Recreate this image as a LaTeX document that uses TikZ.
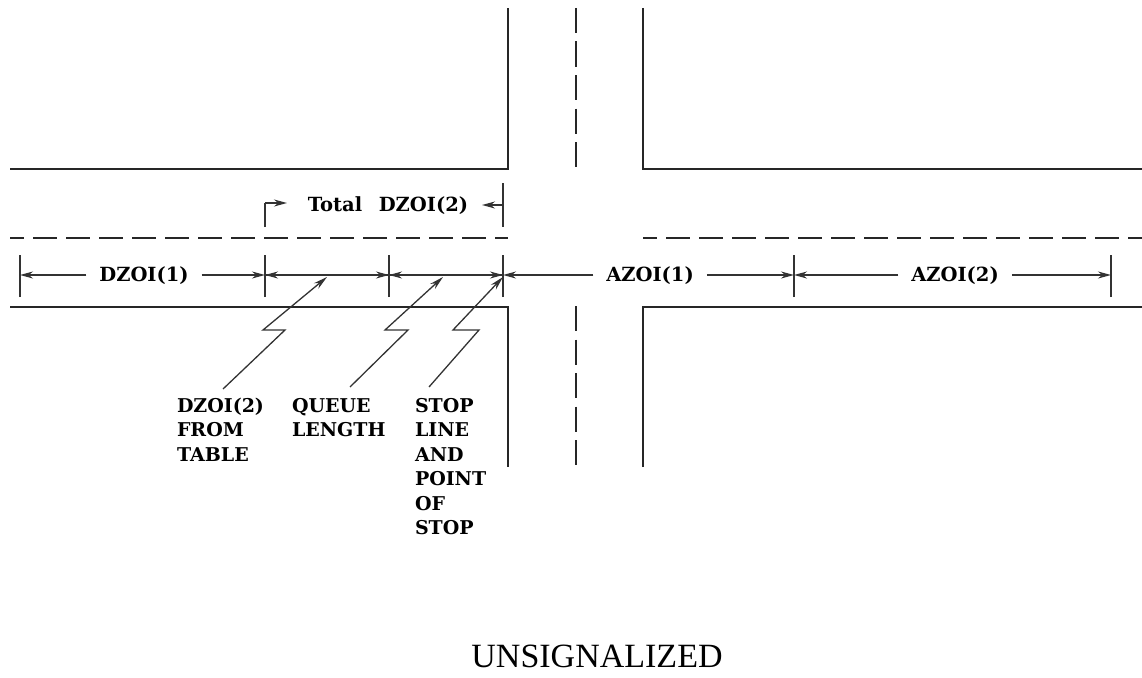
\documentclass[tikz,border=0pt]{standalone}
\usepackage{fontspec}
\setmainfont{DejaVu Serif}
\newfontfamily\titlefont{Liberation Serif}
\usetikzlibrary{arrows.meta}
\tikzset{
  road/.style={line width=1.8pt,draw=black!85},
  centrev/.style={road,dash pattern=on 25pt off 8.5pt},
  centreh/.style={road,dash pattern=on 24pt off 9pt,dash phase=10pt},
  tick/.style={line width=1.6pt,draw=black!80},
  dimline/.style={line width=1.4pt,draw=black!80,-{Stealth[length=13pt,width=7pt]}},
  leader/.style={line width=1.3pt,draw=black!80,-{Stealth[length=14pt,width=7pt]}},
  plain/.style={line width=1.6pt,draw=black!80},
  lab/.style={inner sep=0pt,outer sep=13pt,font=\fontsize{19.5}{24.5}\selectfont\bfseries},
  callout/.style={inner sep=0pt,outer sep=0pt,font=\fontsize{19}{24.5}\selectfont\bfseries,align=left,anchor=north west},
  title/.style={inner sep=0pt,font=\fontsize{34}{40}\selectfont\titlefont}
}
\begin{document}
\begin{tikzpicture}[x=1pt,y=-1pt]
\useasboundingbox (0,0) rectangle (1142,677);
% road edges
\draw[road] (10,169) -- (508,169) -- (508,8);
\draw[road] (643,8) -- (643,169) -- (1142,169);
\draw[road] (10,307) -- (508,307) -- (508,467);
\draw[road] (643,467) -- (643,307) -- (1142,307);
% centre lines
\draw[centrev] (576,8) -- (576,172);
\draw[centrev] (576,306) -- (576,469);
\draw[centreh] (10,238) -- (508,238);
\draw[centreh] (643,238) -- (1142,238);
% ticks
\coordinate (t0) at (20,275);
\coordinate (t1) at (265,275);
\coordinate (t2) at (389,275);
\coordinate (t3) at (503,275);
\coordinate (t4) at (794,275);
\coordinate (t5) at (1111,275);
\foreach \t in {t0,t1,t2,t3,t4,t5}{\draw[tick] ([yshift=-22pt]\t) -- ([yshift=20pt]\t);}
% labels
\node[lab] (dz1) at (144,276) {DZOI(1)};
\node[lab] (az1) at (650,276) {AZOI(1)};
\node[lab] (az2) at (955,276) {AZOI(2)};
\node[lab,outer sep=4pt] (tot) at (388,206) {Total\hspace{0.5em} DZOI(2)};
% dimension lines
\draw[dimline] (dz1.west |- t0) -- (t0);
\draw[dimline] (dz1.east |- t1) -- (t1);
\draw[dimline] (t2) -- (t1);
\draw[dimline] (t1) -- (t2);
\draw[dimline] (t3) -- (t2);
\draw[dimline] (t2) -- (t3);
\draw[dimline] (az1.west |- t3) -- (t3);
\draw[dimline] (az1.east |- t4) -- (t4);
\draw[dimline] (az2.west |- t4) -- (t4);
\draw[dimline] (az2.east |- t5) -- (t5);
% total
\coordinate (tl) at (265,227);
\coordinate (tc) at (265,203);
\coordinate (tla) at (287,203);
\coordinate (tr) at (503,183);
\coordinate (trb) at (503,227);
\coordinate (tra) at (482,205);
\coordinate (trm) at (503,205);
\draw[plain] (tl) -- (tc);
\draw[dimline] (tc) -- (tla);
\draw[tick] (tr) -- (trb);
\draw[dimline] (trm) -- (tra);
% callouts
\node[callout] (c1) at (177,398) {DZOI(2)\\FROM\\TABLE};
\node[callout] (c2) at (292,398) {QUEUE\\LENGTH};
\node[callout] (c3) at (415,398) {STOP\\LINE\\AND\\POINT\\OF\\STOP};
\coordinate (a1) at (327,277);
\coordinate (a2) at (443,277);
\coordinate (a3) at (503,277);
\coordinate (s1) at (223,389);
\coordinate (s2) at (350,387);
\coordinate (s3) at (429,387);
\draw[leader] (s1) -- (285,330) -- (263,330) -- (a1);
\draw[leader] (s2) -- (408,330) -- (385,330) -- (a2);
\draw[leader] (s3) -- (479,330) -- (453,330) -- (a3);
\node[title] (ttl) at (597,656) {UNSIGNALIZED};
\end{tikzpicture}
\end{document}
